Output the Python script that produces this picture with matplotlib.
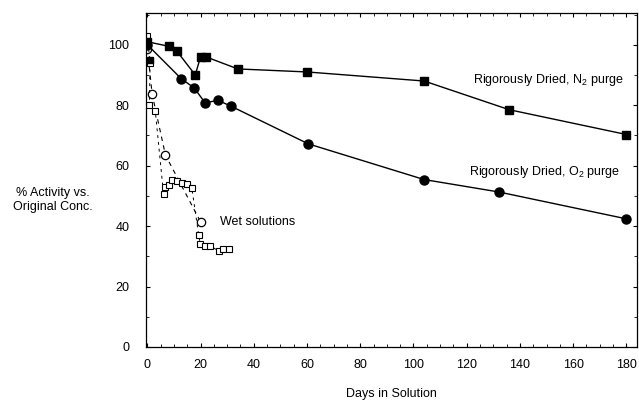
import matplotlib
matplotlib.use("Agg")
import matplotlib.pyplot as plt
from matplotlib.ticker import MultipleLocator

plt.rcParams['font.family'] = ['Liberation Sans', 'DejaVu Sans']
plt.rcParams['mathtext.fontset'] = 'custom'
plt.rcParams['mathtext.rm'] = 'Liberation Sans'

# Rigorously dried, N2 purge (filled squares)
n2_days = [0, 8, 11, 18, 20, 22, 34, 60, 104, 136, 180]
n2_vals = [101, 99.5, 98, 90, 96, 96, 92, 91, 88, 78.5, 70.3]
n2_extra_days = [1]
n2_extra_vals = [95]

# Rigorously dried, O2 purge (filled circles)
o2_days = [0, 12.7, 17.6, 21.7, 26.6, 31.6, 60.5, 104, 132, 180]
o2_vals = [100, 88.8, 85.7, 80.8, 81.6, 79.6, 67.2, 55.4, 51.3, 42.4]

# Wet solutions (open circles and open squares)
wet_c_days = [0, 1.8, 6.8, 20]
wet_c_vals = [98.6, 83.7, 63.5, 41.4]
wet_s_days = [0, 1, 0.8, 3, 6.1, 6.8, 8, 9.3, 11.1, 13, 14.9, 16.7,
              19.3, 19.9, 21.8, 23.6, 26.8, 28.6, 30.5]
wet_s_vals = [103, 94, 80, 78, 50.5, 53, 53.5, 55.4, 54.9, 54.4, 53.8, 52.7,
              37, 34, 33.4, 33.4, 31.8, 32.3, 32.3]

x_ticks = list(range(0, 181, 20))
y_ticks = list(range(0, 101, 20))

fig = plt.figure(figsize=(6.39, 4.03), dpi=100)
ax = fig.add_axes([0.2285, 0.139, 0.7684, 0.8287])

# wet solutions, dashed
ax.plot(wet_c_days, wet_c_vals, color='black', lw=0.8, ls=(0, (4, 4)),
        marker='o', ms=6, mfc='white', mec='black', mew=0.9)
ax.plot(wet_s_days, wet_s_vals, color='black', lw=0.7, ls=(0, (3, 4)),
        marker='s', ms=5, mfc='white', mec='black', mew=0.8)
# dried solutions, solid
ax.plot(n2_days, n2_vals, color='black', lw=1, marker='s', ms=6)
ax.plot(n2_extra_days, n2_extra_vals, ls='none', color='black', marker='s', ms=5)
ax.plot(o2_days, o2_vals, color='black', lw=1, marker='o', ms=6.5)

ax.text(179, 88.4, r"Rigorously Dried, N$_2$ purge", ha='right', va='center', fontsize=9)
ax.text(177.8, 58, r"Rigorously Dried, O$_2$ purge", ha='right', va='center', fontsize=9)
ax.text(27.3, 41.3, "Wet solutions", ha='left', va='center', fontsize=9)

ax.set_xlim(-0.5, 184)
ax.set_ylim(0, 110.5)
ax.set_xticks(x_ticks)
ax.set_yticks(y_ticks)
ax.xaxis.set_minor_locator(MultipleLocator(5))
ax.yaxis.set_minor_locator(MultipleLocator(10))
ax.tick_params(which='both', direction='in', top=True, right=True, labelsize=9)
ax.tick_params(which='major', length=3, width=0.8)
ax.tick_params(which='minor', length=2, width=0.6)
ax.tick_params(axis='x', pad=9)
ax.tick_params(axis='y', pad=12)
for s in ax.spines.values():
    s.set_linewidth(0.9)

ax.set_xlabel("Days in Solution", fontsize=9, labelpad=12)
fig.text(53 / 639, 1 - 200 / 403, "% Activity vs.\nOriginal Conc.", ha='center', va='center',
         fontsize=9, linespacing=1.2)

fig.savefig("out.png", dpi=100)
plt.close(fig)
